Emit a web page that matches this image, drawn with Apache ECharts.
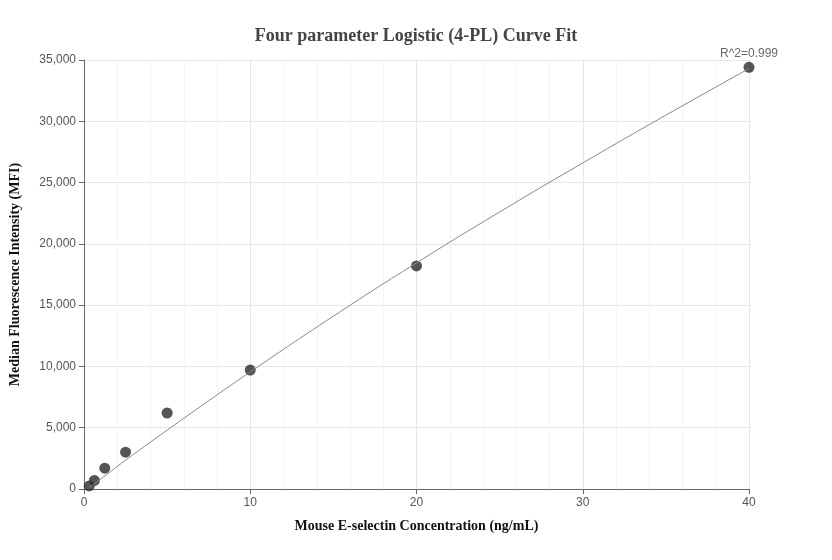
<!DOCTYPE html><html><head><meta charset="utf-8"><script src="https://cdn.jsdelivr.net/npm/echarts@6/dist/echarts.min.js"></script></head><body style="margin:0"><div id="c" style="width:832px;height:560px"></div><script>
const concX=[0.3125,0.625,1.25,2.5,5,10,20,40];
const mfi=[250,700,1700,3000,6200,9700,18200,34400];
const fitX=[0.3,1,2.5,5,7.5,10,15,20,25,30,35,40];
const fitY=[120,800,2350,4800,7200,9550,14100,18450,22600,26600,30500,34300];
const c=echarts.init(document.getElementById('c'));
const tf={fontFamily:'Times New Roman, Liberation Serif',fontWeight:'bold',color:'#111',fontSize:14};
c.setOption({
title:{text:'Four parameter Logistic (4-PL) Curve Fit',left:'center',top:22,textStyle:{fontFamily:'Times New Roman, Liberation Serif',fontSize:18,fontWeight:'bold',color:'#444'}},
grid:{left:83,right:83,top:60,bottom:71},
xAxis:{type:'value',min:0,max:40,interval:10,name:'Mouse E-selectin Concentration (ng/mL)',nameLocation:'middle',nameGap:30,nameTextStyle:tf,
axisLine:{lineStyle:{color:'#666'}},axisTick:{show:true,lineStyle:{color:'#666'}},axisLabel:{color:'#555',fontSize:12},
splitLine:{lineStyle:{color:'#e6e6e6'}},minorTick:{show:false,splitNumber:5},minorSplitLine:{show:true,lineStyle:{color:'#f4f4f4'}}},
yAxis:{type:'value',min:0,max:35000,interval:5000,name:'Median Fluorescence Intensity (MFI)',nameLocation:'middle',nameGap:62,nameTextStyle:tf,
axisLine:{show:true,lineStyle:{color:'#666'}},axisTick:{show:true,lineStyle:{color:'#666'}},axisLabel:{color:'#555',fontSize:12,formatter:v=>v.toLocaleString('en-US')},
splitLine:{lineStyle:{color:'#e6e6e6'}}},
series:[
{type:'line',data:fitX.map((x,i)=>[x,fitY[i]]),smooth:true,symbol:'none',lineStyle:{color:'#888',width:1},silent:true},
{type:'scatter',data:concX.map((x,i)=>[x,mfi[i]]),symbolSize:11,itemStyle:{color:'#2b2b2b'},
label:{show:true,formatter:p=>p.dataIndex===7?'R^2=0.999':'',position:'top',distance:2,color:'#444',fontSize:12}}
]});
</script></body></html>
